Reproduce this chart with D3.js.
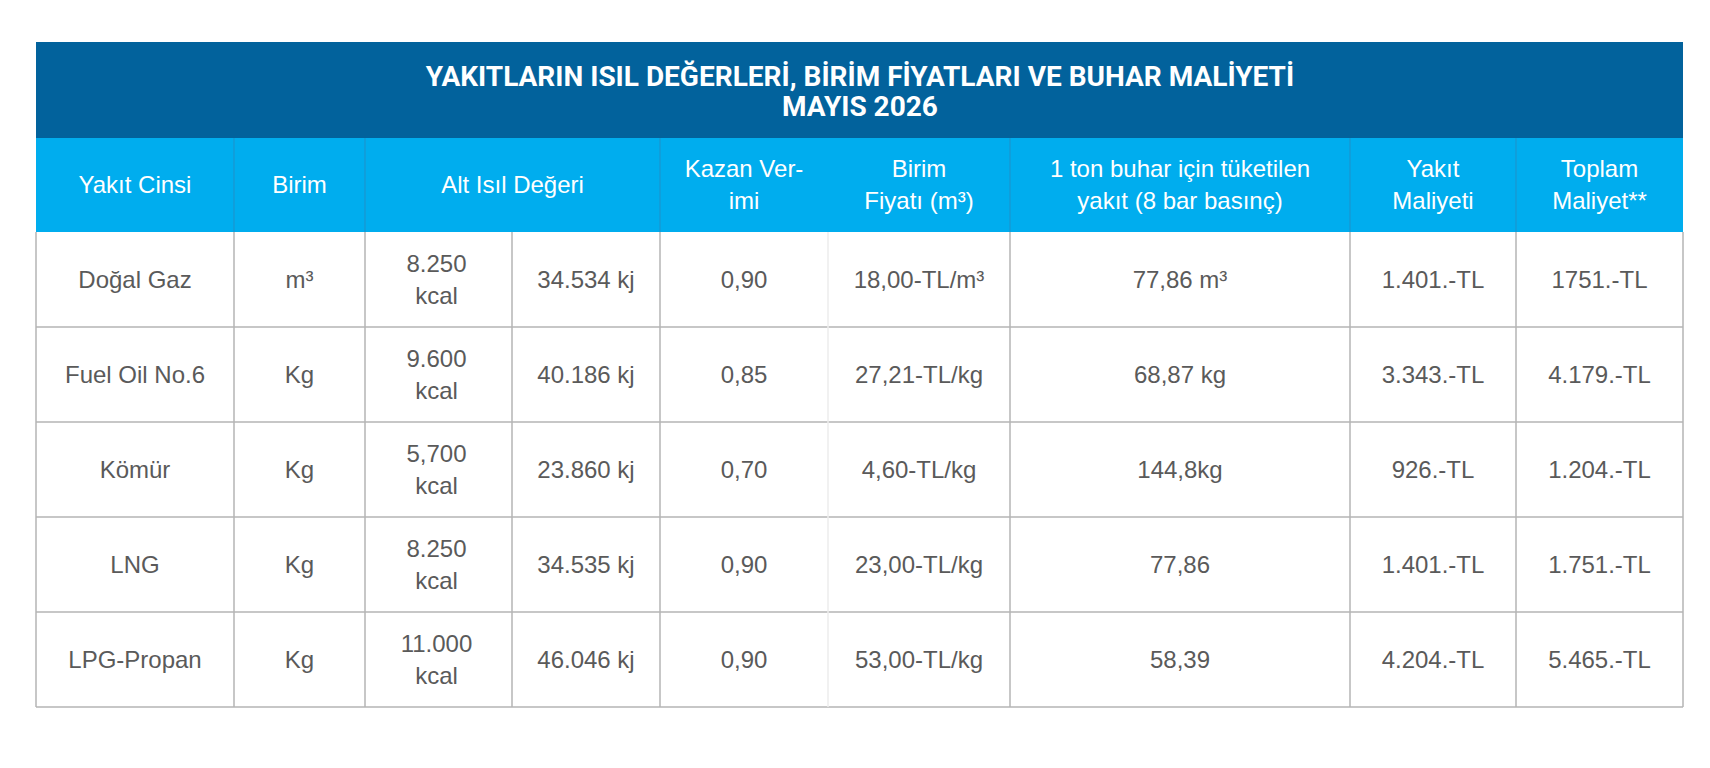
<!DOCTYPE html>
<html><head><meta charset="utf-8">
<script src="https://cdn.jsdelivr.net/npm/d3@7"></script>
<style>body{margin:0;background:#fff;font-family:"Liberation Sans",Arial,sans-serif}</style>
</head><body><div id="chart"></div>
<script>
var titleLines = ["YAKITLARIN ISIL DEĞERLERİ, BİRİM FİYATLARI VE BUHAR MALİYETİ", "MAYIS 2026"];
var headers = [["Yakıt Cinsi"], ["Birim"], ["Alt Isıl Değeri"], ["Kazan Ver-", "imi"], ["Birim", "Fiyatı (m³)"], ["1 ton buhar için tüketilen", "yakıt (8 bar basınç)"], ["Yakıt", "Maliyeti"], ["Toplam", "Maliyet**"]];
var fuels = ["Doğal Gaz", "Fuel Oil No.6", "Kömür", "LNG", "LPG-Propan"];
var units = ["m³", "Kg", "Kg", "Kg", "Kg"];
var kcal = ["8.250", "9.600", "5,700", "8.250", "11.000"];
var kj = ["34.534 kj", "40.186 kj", "23.860 kj", "34.535 kj", "46.046 kj"];
var efficiency = ["0,90", "0,85", "0,70", "0,90", "0,90"];
var prices = ["18,00-TL/m³", "27,21-TL/kg", "4,60-TL/kg", "23,00-TL/kg", "53,00-TL/kg"];
var consumption = ["77,86 m³", "68,87 kg", "144,8kg", "77,86", "58,39"];
var fuelCost = ["1.401.-TL", "3.343.-TL", "926.-TL", "1.401.-TL", "4.204.-TL"];
var totalCost = ["1751.-TL", "4.179.-TL", "1.204.-TL", "1.751.-TL", "5.465.-TL"];

var W = 1710, H = 768;
var colEdges = [36, 234, 365, 512, 660, 828, 1010, 1350, 1516, 1683];
// header column spans: Alt Isıl spans 2 columns
var headSpans = [[0,1],[1,2],[2,4],[4,5],[5,6],[6,7],[7,8],[8,9]];
var y = d3.scaleBand().domain(d3.range(fuels.length)).range([232, 707]);
var txt = "#5a5a5a", line = "#b5b5b5";

var svg = d3.select("#chart").append("svg").attr("width", W).attr("height", H);

svg.append("rect").attr("x", 36).attr("y", 42).attr("width", 1647).attr("height", 96).attr("fill", "#02629c");
svg.selectAll(".title").data(titleLines).join("text")
  .attr("x", 860).attr("y", (d, i) => 86 + i * 30)
  .attr("text-anchor", "middle").attr("fill", "#fff")
  .style("font-family", "Roboto, 'Liberation Sans', sans-serif").style("font-weight", 700).style("font-size", "28px")
  .text(d => d);

svg.append("rect").attr("x", 36).attr("y", 138).attr("width", 1647).attr("height", 94).attr("fill", "#00adee");
headSpans.forEach(function(s, i) {
  var cx = (colEdges[s[0]] + colEdges[s[1]]) / 2;
  var lines = headers[i];
  svg.append("g").selectAll("text").data(lines).join("text")
    .attr("x", cx).attr("y", (d, j) => 185 + 8 + (j - (lines.length - 1) / 2) * 32)
    .attr("text-anchor", "middle").attr("fill", "#fff").style("font-size", "24px").text(d => d);
  if (i > 0 && i !== 4) svg.append("line").attr("x1", colEdges[s[0]]).attr("x2", colEdges[s[0]])
    .attr("y1", 138).attr("y2", 232).attr("stroke", "#1a95cf").attr("stroke-width", 1.2);
});

var cols = [fuels, units, null, kj, efficiency, prices, consumption, fuelCost, totalCost];
fuels.forEach(function(f, r) {
  var top = y(r), cy = top + y.bandwidth() / 2;
  svg.append("line").attr("x1", 36).attr("x2", 1683).attr("y1", top + y.bandwidth()).attr("y2", top + y.bandwidth())
    .attr("stroke", line).attr("stroke-width", 1.5);
  cols.forEach(function(c, k) {
    var cx = (colEdges[k] + colEdges[k + 1]) / 2;
    if (c === null) {
      svg.append("g").selectAll("text").data([kcal[r], "kcal"]).join("text")
        .attr("x", cx - 2).attr("y", (d, j) => cy + 8 + (j - 0.5) * 32)
        .attr("text-anchor", "middle").attr("fill", txt).style("font-size", "24px").text(d => d);
    } else {
      svg.append("text").attr("x", cx).attr("y", cy + 8).attr("text-anchor", "middle")
        .attr("fill", txt).style("font-size", "24px").text(c[r]);
    }
  });
});
colEdges.forEach(function(x, k) {
  svg.append("line").attr("x1", x).attr("x2", x).attr("y1", 232).attr("y2", 707)
    .attr("stroke", k === 5 ? "#ececec" : line).attr("stroke-width", 1.5);
});
</script></body></html>
